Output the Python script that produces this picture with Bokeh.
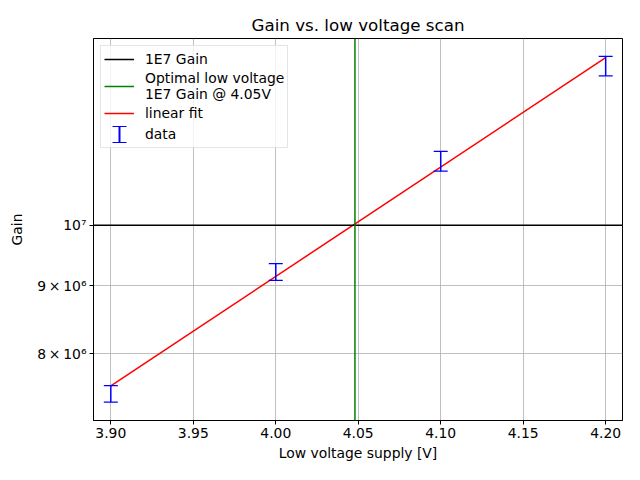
import math
from bokeh.plotting import figure
from bokeh.models import (Range1d, FixedTicker, CustomJSTickFormatter, Span, Legend,
                          LegendItem, NumeralTickFormatter, ColumnDataSource)
from bokeh.embed import file_html
from bokeh.resources import INLINE

# ---- data ----
voltage = [3.90, 4.00, 4.10, 4.20]
gain = [7.466e6, 9.222e6, 1.1174e7, 1.3178e7]
gain_err = [0.107e6, 0.135e6, 0.192e6, 0.222e6]
fit_voltage = [3.90, 4.20]
fit_gain = [7.57e6, 1.337e7]
target_gain = 1e7
optimal_voltage = 4.048
x_ticks = [3.90, 3.95, 4.00, 4.05, 4.10, 4.15, 4.20]
y_ticks = [8000000, 9000000, 10000000]
y_tick_labels = ["8\u2009×\u200910⁶", "9\u2009×\u200910⁶", "10⁷"]

FONT = "DejaVu Sans"

lo = [g - e for g, e in zip(gain, gain_err)]
hi = [g + e for g, e in zip(gain, gain_err)]
src = ColumnDataSource(dict(x=voltage, y=gain, lo=lo, hi=hi))

p = figure(frame_width=529, frame_height=382,
           min_border_left=93, min_border_right=2, min_border_top=38, min_border_bottom=44,
           y_axis_type="log",
           x_range=Range1d(3.8895, 4.2102), y_range=Range1d(7.128e6, 1.3822e7),
           output_backend="svg", toolbar_location=None,
           title="Gain vs. low voltage scan")

p.title.align = "center"
p.title.text_font = FONT
p.title.text_font_size = "16.7px"
p.title.text_font_style = "normal"
p.title.text_color = "black"
p.title.standoff = 7

p.background_fill_color = "white"
p.border_fill_color = "white"
p.outline_line_color = "black"
p.outline_line_width = 1
p.outline_line_alpha = 1

# axes
p.xaxis.ticker = FixedTicker(ticks=x_ticks, minor_ticks=[])
p.xaxis.formatter = NumeralTickFormatter(format="0.00")
p.yaxis.ticker = FixedTicker(ticks=y_ticks, minor_ticks=[])
p.yaxis.formatter = CustomJSTickFormatter(
    args=dict(vals=y_ticks, labs=y_tick_labels),
    code="for (let i = 0; i < vals.length; i++) { if (Math.abs(tick - vals[i]) < 1) return labs[i]; } return '';")

for ax in (p.xaxis[0], p.yaxis[0]):
    ax.axis_line_color = "black"
    ax.axis_line_width = 1
    ax.major_tick_out = 4
    ax.major_tick_in = 0
    ax.minor_tick_out = 0
    ax.minor_tick_in = 0
    ax.major_tick_line_color = "black"
    ax.major_label_text_font = FONT
    ax.major_label_text_font_size = "13.9px"
    ax.major_label_text_color = "black"
    ax.major_label_standoff = 3
    ax.axis_label_text_font = FONT
    ax.axis_label_text_font_size = "13.9px"
    ax.axis_label_text_font_style = "normal"
    ax.axis_label_text_color = "black"

p.xaxis.axis_label = "Low voltage supply [V]"
p.yaxis.axis_label = "Gain"
p.xaxis.axis_label_standoff = 4
p.yaxis.axis_label_standoff = 9

p.xgrid.grid_line_color = "#b0b0b0"
p.ygrid.grid_line_color = "#b0b0b0"
p.xgrid.grid_line_width = 0.8
p.ygrid.grid_line_width = 0.8

# reference lines
p.add_layout(Span(location=target_gain, dimension="width", line_color="black", line_width=1.5))
p.add_layout(Span(location=optimal_voltage, dimension="height", line_color="#008000", line_width=1.5))

# fit
r_fit = p.line(fit_voltage, fit_gain, line_color="red", line_width=1.5)

# error bars
p.segment(x0="x", y0="lo", x1="x", y1="hi", source=src, line_color="blue", line_width=1.5)
p.scatter(x="x", y="lo", source=src, marker="dash", size=14, line_color="blue", line_width=1.2)
p.scatter(x="x", y="hi", source=src, marker="dash", size=14, line_color="blue", line_width=1.2)

# legend proxies (placed outside the visible range; only their legend icons show)
r_black = p.line(x=[5.0, 5.1], y=[1e7, 1e7], line_color="black", line_width=1.5)
r_green = p.line(x=[5.0, 5.1], y=[1e7, 1e7], line_color="#008000", line_width=1.5)
# data: caps (top/bottom edges of an area icon, dashed to 14px) + vertical bar
r_caps = p.quad(left=[5.0], right=[5.1], bottom=[1e7], top=[1.1e7],
                fill_alpha=0.0, line_color="blue", line_width=1.2,
                line_dash="14 26", line_dash_offset=35)
r_bar = p.scatter(x=[5.0], y=[1e7], marker="dash", size=8,
                  line_color="blue", line_width=16, line_dash="2 6", line_dash_offset=5)

legend = Legend(items=[
    LegendItem(label="1E7 Gain", renderers=[r_black]),
    LegendItem(label="Optimal low voltage\n1E7 Gain @ 4.05V", renderers=[r_green]),
    LegendItem(label="linear fit", renderers=[r_fit]),
    LegendItem(label="data", renderers=[r_caps, r_bar]),
], location="top_left")
legend.label_text_font = FONT
legend.label_text_font_size = "13.9px"
legend.label_text_color = "black"
legend.glyph_width = 30
legend.glyph_height = 20
legend.label_standoff = 11
legend.spacing = 1
legend.padding = 3
legend.margin = 7
legend.border_line_color = "#cccccc"
legend.border_line_width = 1
legend.background_fill_alpha = 0.8
p.add_layout(legend)

open("out.html", "w").write(file_html(p, INLINE))
